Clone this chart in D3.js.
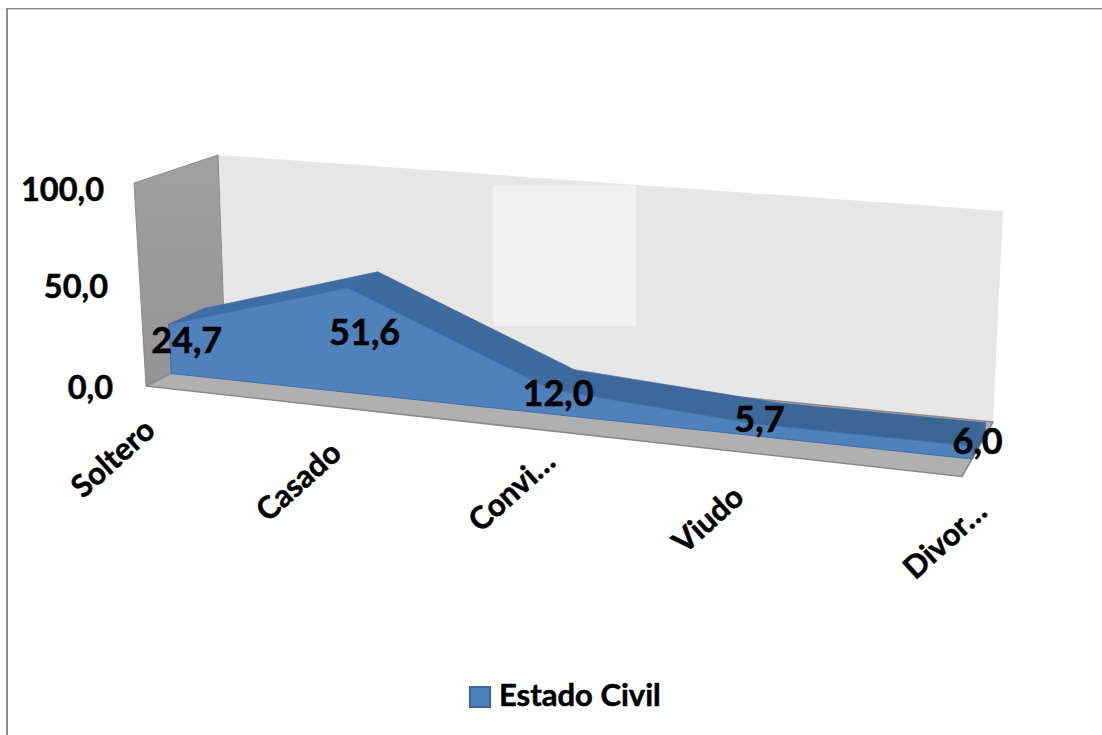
<!DOCTYPE html>
<html><head><meta charset="utf-8">
<script src="https://cdn.jsdelivr.net/npm/d3@7"></script>
<style>html,body{margin:0;background:#fff}svg{display:block}text{font-family:Lato,sans-serif;font-weight:700;fill:#000;stroke:#000;stroke-width:.55px}</style>
</head><body><svg id="c" width="1102" height="735"></svg>
<script>
const categories = ["Soltero","Casado","Convi…","Viudo","Divor…"];
const values = [24.7,51.6,12.0,5.7,6.0];
const valueLabels = ["24,7","51,6","12,0","5,7","6,0"];
const yTicks = [0,50,100];
const yTickLabels = ["0,0","50,0","100,0"];
const seriesName = "Estado Civil";

const svg = d3.select("#c");
// box corners [x,y]: floor and ceiling, front/back, left/right
const box = {
  f:{fl:[146,386],fr:[962,476.5],bl:[225,347],br:[993,422]},
  c:{fl:[134,183],fr:[975,258],bl:[218,155],br:[1003,211]}
};
const lerp = (a,b,k)=>a+(b-a)*k;
const catT = d3.scalePow().exponent(1.08).domain([0,categories.length-1]).range([0,1]);
const vK = d3.scaleLinear().domain([0,100]).range([0,1]);
const depth = {front:0.32, back:0.75};
function P(t,d,v){
  const k=vK(v), q=n=>[0,1].map(a=>lerp(
    lerp(box.f['f'+n][a],box.f['b'+n][a],d),
    lerp(box.c['f'+n][a],box.c['b'+n][a],d),k));
  const l=q('l'), r=q('r');
  return [lerp(l[0],r[0],t),lerp(l[1],r[1],t)];
}
const poly=(pts,fill,stroke,sw)=>svg.append("polygon").attr("points",pts.map(p=>p.join(",")).join(" "))
  .attr("fill",fill).attr("stroke",stroke||"none").attr("stroke-width",sw||0).attr("stroke-linejoin","round");

const defs=svg.append("defs");
const g1=defs.append("linearGradient").attr("id","side").attr("x1",0).attr("y1",0).attr("x2",0).attr("y2",1);
g1.append("stop").attr("offset",0).attr("stop-color","#a0a0a0");
g1.append("stop").attr("offset",1).attr("stop-color","#949494");

// frame
svg.append("line").attr("x1",0).attr("x2",1102).attr("y1",9.5).attr("y2",9.5).attr("stroke","#eeeeee");
svg.append("line").attr("x1",6).attr("x2",1102).attr("y1",8.6).attr("y2",8.6).attr("stroke","#868686").attr("stroke-width",1.3);
svg.append("line").attr("x1",7).attr("x2",7).attr("y1",8).attr("y2",735).attr("stroke","#8c8c8c").attr("stroke-width",2);

// walls and floor
poly([P(0,1,0),P(0,1,100),P(1,1,100),P(1,1,0)],"#e6e6e6");
svg.append("rect").attr("x",493).attr("y",185).attr("width",143).attr("height",141).attr("fill","#f0f0f0");
poly([P(0,0,0),P(0,0,100),P(0,1,100),P(0,1,0)],"url(#side)","#8a8a8a",1);
poly([P(0,0,0),P(1,0,0),P(1,1,0),P(0,1,0)],"#b0b0b0","#8a8a8a",1.6);

// area: back top facets then front
const pts=values.map((v,i)=>({t:catT(i),v}));
pts.slice(0,-1).forEach((a,i)=>{
  const b=pts[i+1];
  poly([P(a.t,depth.front,a.v),P(b.t,depth.front,b.v),P(b.t,depth.back,b.v),P(a.t,depth.back,a.v)],d3.interpolateRgb("#3f6ea6","#3a6595")(i/3),"#3a6595",0.6);
});
const last=pts[pts.length-1];
poly([P(1,depth.front,0),P(1,depth.front,last.v),P(1,depth.back,last.v),P(1,depth.back,0)],"#3a6595");
poly([P(0,depth.front,0),...pts.map(p=>P(p.t,depth.front,p.v)),P(1,depth.front,0)],"#4f81bd","#3f6ea6",1);

// y axis labels follow the slanted left wall
const tickOff={0:[-33,13],50:[-32,13.5],100:[-30,18]};
svg.selectAll(".yt").data(yTicks).join("text").attr("class","yt")
  .attr("x",d=>P(0,0,d)[0]+tickOff[d][0]).attr("y",d=>P(0,0,d)[1]+tickOff[d][1])
  .attr("text-anchor","end").attr("font-size",32.5).text((d,i)=>yTickLabels[i]);

// category labels
const catOff=[[-35,71],[-32,74],[-22,61],[-38,66],[-19,62]];
svg.selectAll(".ct").data(categories).join("text").attr("class","ct")
  .attr("transform",(d,i)=>{const p=P(catT(i),0,0);return `translate(${p[0]+catOff[i][0]+9},${p[1]+catOff[i][1]+9}) rotate(-42)`;})
  .attr("text-anchor","middle").attr("font-size",31).text(d=>d);

// value labels
const labelOff=[[18,29],[17,57],[8,17],[1,8],[5,8]];
svg.selectAll(".vl").data(valueLabels).join("text").attr("class","vl")
  .attr("transform",(d,i)=>{const p=P(catT(i),depth.front,values[i]);return `translate(${p[0]+labelOff[i][0]},${p[1]+labelOff[i][1]})`;})
  .attr("text-anchor","middle").attr("font-size",36).text(d=>d);

// legend
svg.append("rect").attr("x",470).attr("y",687).attr("width",20).attr("height",20).attr("fill","#4f81bd").attr("stroke","#3a6595").attr("stroke-width",2);
svg.append("text").attr("x",499).attr("y",706).attr("font-size",31).text(seriesName);
</script></body></html>
